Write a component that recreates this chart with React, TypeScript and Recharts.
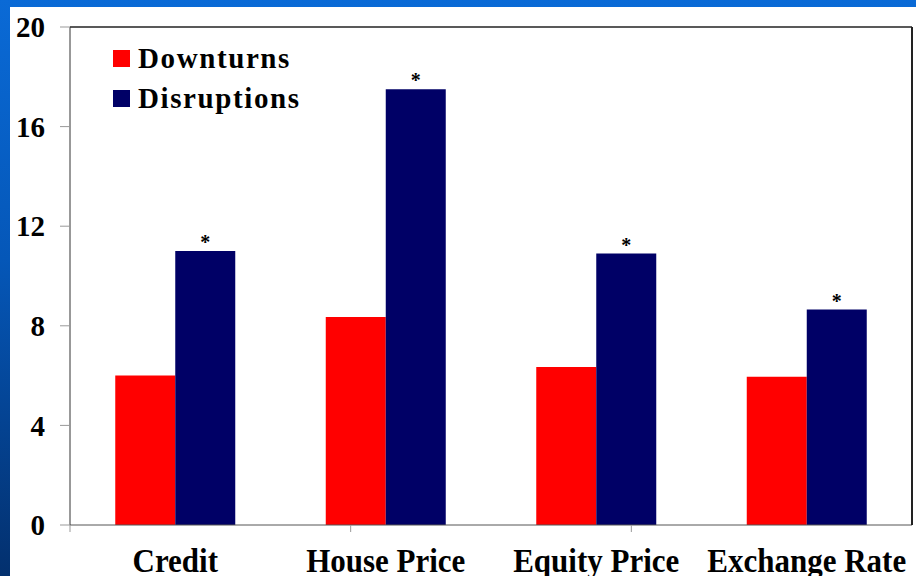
import React from 'react';
import {
   BarChart,
   Bar,
   XAxis,
   YAxis,
   Legend,
   LabelList,
   ReferenceLine,
} from 'recharts';

// categories and values
const categories = ['Credit', 'House Price', 'Equity Price', 'Exchange Rate'];
const downturns = [6.0, 8.35, 6.35, 5.95];
const disruptions = [11.0, 17.5, 10.9, 8.65];
const seriesNames = ['Downturns', 'Disruptions'];
const yTicks = [0, 4, 8, 12, 16, 20];
const bounds = [0, 1, 2, 3, 4];

const data = categories.map((name, i) => ({
   name,
   downturns: downturns[i],
   disruptions: disruptions[i],
}));

const serif = '"Liberation Serif", "Times New Roman", serif';

const LegendBox: React.FC<any> = ({ payload }) => {
   const items = [...(payload || [])].sort(
      (a: any, b: any) => seriesNames.indexOf(a.value) - seriesNames.indexOf(b.value)
   );
   return (
      <div>
         {items.map((item: any) => (
            <div key={item.value} style={{ display: 'flex', alignItems: 'center', height: 40 }}>
               <div style={{ width: 17, height: 17, background: item.color, marginRight: 8 }} />
               <span style={{ color: '#000', fontFamily: serif, fontWeight: 700, fontSize: 29, letterSpacing: 1.6 }}>
                  {item.value}
               </span>
            </div>
         ))}
      </div>
   );
};

// tall, slightly squeezed labels like the original slide
const CategoryTick: React.FC<any> = ({ x, y, payload }) => (
   <g transform={`translate(${x},${y})`}>
      <text
         x={0}
         y={0}
         dy={28}
         textAnchor="middle"
         fill="#000"
         fontFamily={serif}
         fontWeight={700}
         fontSize={31}
         transform="scale(1,1.12)"
      >
         {payload.value}
      </text>
   </g>
);

const App: React.FC = () => {
   return (
      <div
         style={{
            position: 'fixed',
            left: 0,
            top: 0,
            width: 916,
            height: 576,
            background: 'linear-gradient(180deg, #0a6ad6 0%, #0557b8 45%, #03306e 100%)',
            overflow: 'hidden',
         }}
      >
         <div style={{ position: 'absolute', left: 10, top: 7, width: 906, height: 569, background: '#fff' }}>
            <BarChart
               width={906}
               height={569}
               data={data}
               margin={{ top: 20, right: 0, left: 0, bottom: 0 }}
               barCategoryGap="21.5%"
               barGap={0}
            >
               <XAxis
                  xAxisId="b"
                  type="number"
                  domain={[0, 4]}
                  ticks={bounds}
                  allowDataOverflow
                  height={8}
                  tickSize={7}
                  tickFormatter={() => ''}
                  stroke="#555"
                  tickLine={{ stroke: '#999' }}
               />
               <XAxis
                  xAxisId="c"
                  dataKey="name"
                  height={43}
                  axisLine={false}
                  tickLine={false}
                  interval={0}
                  tick={<CategoryTick />}
               />
               <YAxis
                  domain={[0, 20]}
                  ticks={yTicks}
                  width={60}
                  tickSize={10}
                  tickMargin={15}
                  stroke="#333"
                  tickLine={{ stroke: '#999' }}
                  tick={{ fill: '#000', fontFamily: serif, fontWeight: 700, fontSize: 29 }}
               />
               <YAxis
                  yAxisId="r"
                  orientation="right"
                  width={4}
                  tick={false}
                  stroke="#222"
                  strokeWidth={2}
               />
               <ReferenceLine y={20} xAxisId="c" stroke="#222" strokeWidth={1.5} />
               <Legend
                  layout="vertical"
                  verticalAlign="middle"
                  align="center"
                  content={<LegendBox />}
                  wrapperStyle={{ left: 103, top: 31, width: 'auto' }}
               />
               <Bar xAxisId="c" dataKey="downturns" name="Downturns" fill="#ff0000" isAnimationActive={false} />
               <Bar xAxisId="c" dataKey="disruptions" name="Disruptions" fill="#000066" isAnimationActive={false}>
                  <LabelList
                     dataKey="disruptions"
                     position="top"
                     offset={2}
                     formatter={() => '*'}
                     style={{ fill: '#000', fontFamily: serif, fontWeight: 700, fontSize: 20 }}
                  />
               </Bar>
            </BarChart>
         </div>
      </div>
   );
};

export default App;
